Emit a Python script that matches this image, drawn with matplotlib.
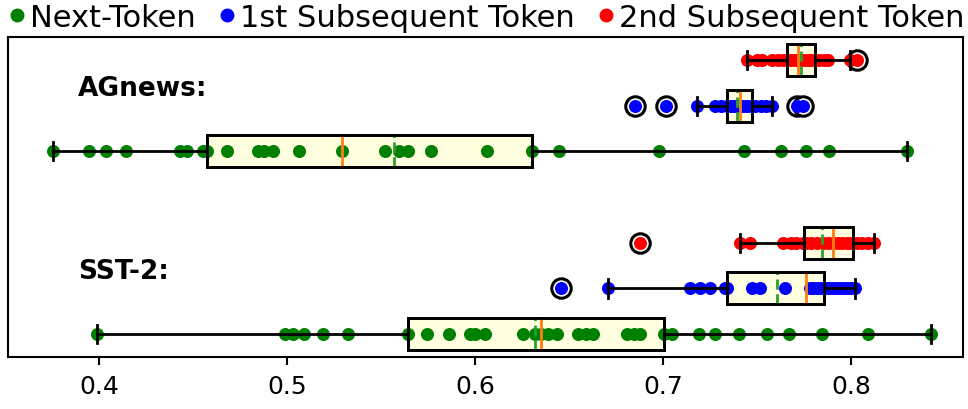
import matplotlib
matplotlib.use('Agg')
import matplotlib.pyplot as plt
from matplotlib.lines import Line2D
from matplotlib.patches import PathPatch

# scores per token type, per dataset
ag_next = [0.3757, 0.3948, 0.4037, 0.4144, 0.4431, 0.4466, 0.4555, 0.4573, 0.4679,
           0.4844, 0.4880, 0.4927, 0.5064, 0.5294, 0.5521, 0.5596, 0.5645, 0.5766,
           0.6062, 0.6302, 0.6447, 0.6979, 0.7431, 0.7626, 0.7761, 0.7885, 0.8296]
ag_first = [0.6851, 0.7016, 0.7179, 0.7277, 0.7310, 0.7340, 0.7360, 0.7380, 0.7396,
            0.7411, 0.7425, 0.7445, 0.7470, 0.7490, 0.7520, 0.7550, 0.7582, 0.7713, 0.7745]
ag_second = [0.7447, 0.7500, 0.7527, 0.7580, 0.7610, 0.7640, 0.7658, 0.7680, 0.7700,
             0.7720, 0.7735, 0.7750, 0.7770, 0.7790, 0.7809, 0.7830, 0.7855, 0.7878,
             0.7995, 0.8030]
sst_next = [0.3988, 0.4989, 0.5030, 0.5092, 0.5190, 0.5326, 0.5645, 0.5743, 0.5862,
            0.5973, 0.6000, 0.6053, 0.6257, 0.6319, 0.6349, 0.6390, 0.6434, 0.6550,
            0.6590, 0.6629, 0.6807, 0.6846, 0.6878, 0.7005, 0.7046, 0.7193, 0.7277,
            0.7404, 0.7555, 0.7672, 0.7847, 0.8092, 0.8424]
sst_first = [0.6456, 0.6706, 0.7144, 0.7197, 0.7250, 0.7330, 0.7343, 0.7473, 0.7516,
             0.7649, 0.7780, 0.7800, 0.7820, 0.7840, 0.7860, 0.7880, 0.7900, 0.7920,
             0.7940, 0.7960, 0.7980, 0.8000, 0.8021]
sst_second = [0.6878, 0.7410, 0.7463, 0.7640, 0.7680, 0.7710, 0.7745, 0.7760, 0.7790,
              0.7820, 0.7850, 0.7880, 0.7904, 0.7930, 0.7950, 0.7980, 0.8000, 0.8011,
              0.8030, 0.8060, 0.8090, 0.8122]

# box statistics: (q1, median, q3, whisker low, whisker high, mean, outliers)
ag_next_box = (0.4573, 0.5294, 0.6302, 0.3757, 0.8296, 0.5571, [])
ag_first_box = (0.7340, 0.7411, 0.7475, 0.7179, 0.7582, 0.7396, [0.6851, 0.7016, 0.7713, 0.7745])
ag_second_box = (0.7658, 0.7720, 0.7809, 0.7447, 0.7995, 0.7734, [0.8030])
sst_next_box = (0.5645, 0.6349, 0.7005, 0.3988, 0.8424, 0.6319, [])
sst_first_box = (0.7343, 0.7761, 0.7856, 0.6706, 0.8021, 0.7608, [0.6456])
sst_second_box = (0.7750, 0.7904, 0.8011, 0.7410, 0.8122, 0.7844, [0.6878])

datasets = ['AGnews:', 'SST-2:']
token_types = ['Next-Token', '1st Subsequent Token', '2nd Subsequent Token']
colors = ['green', 'blue', 'red']

groups = [
    (sst_next, sst_next_box, 0), (sst_first, sst_first_box, 1), (sst_second, sst_second_box, 2),
    (ag_next, ag_next_box, 0), (ag_first, ag_first_box, 1), (ag_second, ag_second_box, 2),
]
positions = [1, 2, 3, 5, 6, 7]

stats = []
for vals, b, k in groups:
    q1, med, q3, lo, hi, mean, fl = b
    stats.append(dict(q1=q1, med=med, q3=q3, whislo=lo, whishi=hi, mean=mean, fliers=fl))

fig = plt.figure(figsize=(9.68, 4.10), dpi=100)
ax = fig.add_axes([0.0083, 0.127, 0.9865, 0.78])

lw = 2.0
bp = ax.bxp(stats, positions=positions, vert=False, widths=0.7, capwidths=0.4,
            patch_artist=True, showmeans=True, meanline=True,
            boxprops=dict(facecolor='lightyellow', edgecolor='black', linewidth=lw),
            whiskerprops=dict(color='black', linewidth=lw),
            capprops=dict(color='black', linewidth=lw),
            medianprops=dict(color='C1', linewidth=lw),
            meanprops=dict(color='C2', linewidth=lw, linestyle='--'),
            flierprops=dict(marker='o', markersize=14, markerfacecolor='white',
                            markeredgecolor='black', markeredgewidth=2.2))

# fill stays under the dots, outline goes over them
for box in bp['boxes']:
    box.set_zorder(1)
    ax.add_patch(PathPatch(box.get_path(), fill=False, edgecolor='black', linewidth=lw, zorder=3))
for key in ['whiskers', 'caps', 'medians', 'means']:
    for ln in bp[key]:
        ln.set_zorder(3)
for ln in bp['fliers']:
    ln.set_zorder(1.5)

# individual scores on top of the boxes
for (vals, b, k), pos in zip(groups, positions):
    ax.scatter(vals, [pos] * len(vals), s=88, color=colors[k], zorder=2, linewidths=0)

ax.text(0.3888, 6.38, datasets[0], fontsize=19, fontweight='bold', va='center', ha='left')
ax.text(0.3888, 2.38, datasets[1], fontsize=19, fontweight='bold', va='center', ha='left')

ax.set_xlim(0.3516, 0.8596)
ax.set_ylim(0.5, 7.5)
ax.set_yticks([])
ax.set_xticks([0.4, 0.5, 0.6, 0.7, 0.8])
ax.set_xticklabels(['0.4', '0.5', '0.6', '0.7', '0.8'])
ax.tick_params(axis='x', labelsize=18, length=6, width=1.5, pad=6)
for s in ax.spines.values():
    s.set_linewidth(1.5)

handles = [Line2D([], [], marker='o', linestyle='none', markersize=9, color=c) for c in colors]
fig.legend(handles, token_types, loc='upper center', bbox_to_anchor=(0.503, 1.035), ncol=3,
           frameon=False, fontsize=22, handlelength=0.5, handletextpad=0.15,
           columnspacing=0.8, borderaxespad=0.2)

fig.savefig('out.png', dpi=100)
